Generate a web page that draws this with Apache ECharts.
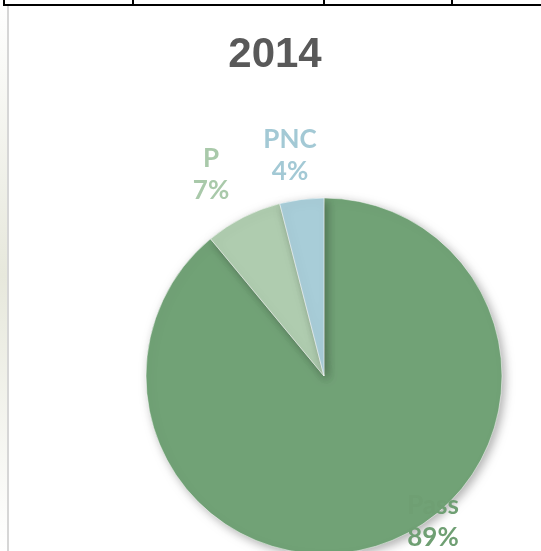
<!DOCTYPE html>
<html>
<head>
<meta charset="utf-8">
<style>
	html, body { margin: 0; padding: 0; background: #fff; }
	#chart { width: 541px; height: 551px; }
</style>
<script src="https://cdn.jsdelivr.net/npm/echarts@6/dist/echarts.min.js"></script>
</head>
<body>
<div id="chart"></div>
<script>
var categories = ['Pass', 'P', 'PNC'];
var values = [89, 7, 4];
var sliceColors = ['#71a276', '#afccaf', '#a8cdd8'];
var labelColors = ['#6f9f73', '#a9c9aa', '#a3c9d5'];
// label anchor spots (Excel "best fit")
var labelSpots = [[433, 522], [211, 175], [290, 156]];

var chart = echarts.init(document.getElementById('chart'));

var datas = categories.map(function(name, i)
{
	return {
		name: name,
		value: values[i],
		itemStyle: { color: sliceColors[i] },
		label: { color: labelColors[i] }
	};
});

var options =
{
	backgroundColor: '#fff',
	animation: false,
	title:
	{
		text: '2014',
		left: 270,
		top: 29,
		textAlign: 'center',
		textStyle:
		{
			fontFamily: 'Liberation Sans',
			fontWeight: 'bold',
			fontSize: 42,
			color: '#595959'
		}
	},
	graphic:
	[
		// sheet gridlines at the very top
		{ type: 'rect', silent: true, shape: { x: 0, y: 0, width: 8, height: 551 },
			style: { fill: new echarts.graphic.LinearGradient(0, 0, 0, 1, [
				{ offset: 0, color: '#ffffff' },
				{ offset: 0.5, color: '#e7e8dc' },
				{ offset: 1, color: '#ffffff' }
			]) } },
		{ type: 'rect', silent: true, shape: { x: 7, y: 6, width: 2, height: 545 }, style: { fill: '#d6d6d6' } },
		{ type: 'rect', silent: true, shape: { x: 3, y: 4, width: 538, height: 2 }, style: { fill: '#000' } },
		{ type: 'rect', silent: true, shape: { x: 3, y: 0, width: 2, height: 6 }, style: { fill: '#000' } },
		{ type: 'rect', silent: true, shape: { x: 132, y: 0, width: 2, height: 6 }, style: { fill: '#000' } },
		{ type: 'rect', silent: true, shape: { x: 323, y: 0, width: 2, height: 6 }, style: { fill: '#000' } },
		{ type: 'rect', silent: true, shape: { x: 451, y: 0, width: 2, height: 6 }, style: { fill: '#000' } }
	],
	series:
	[
		{
			name: '2014',
			type: 'pie',
			center: [324, 376],
			radius: 178,
			startAngle: 90,
			clockwise: true,
			data: datas,
			itemStyle:
			{
				borderColor: '#fff',
				borderWidth: 0.5,
				shadowBlur: 10,
				shadowOffsetX: 3,
				shadowOffsetY: 3,
				shadowColor: 'rgba(0,0,0,0.3)'
			},
			label:
			{
				show: true,
				position: 'outside',
				formatter: '{b}\n{d}%',
				fontFamily: 'Lato',
				fontWeight: 'bold',
				fontSize: 26,
				lineHeight: 32,
				align: 'center'
			},
			labelLine: { show: false },
			labelLayout: function(p)
			{
				var s = labelSpots[p.dataIndex];
				return { x: s[0], y: s[1], align: 'center', verticalAlign: 'middle' };
			},
			emphasis: { disabled: true }
		}
	]
};

chart.setOption(options);
</script>
</body>
</html>
